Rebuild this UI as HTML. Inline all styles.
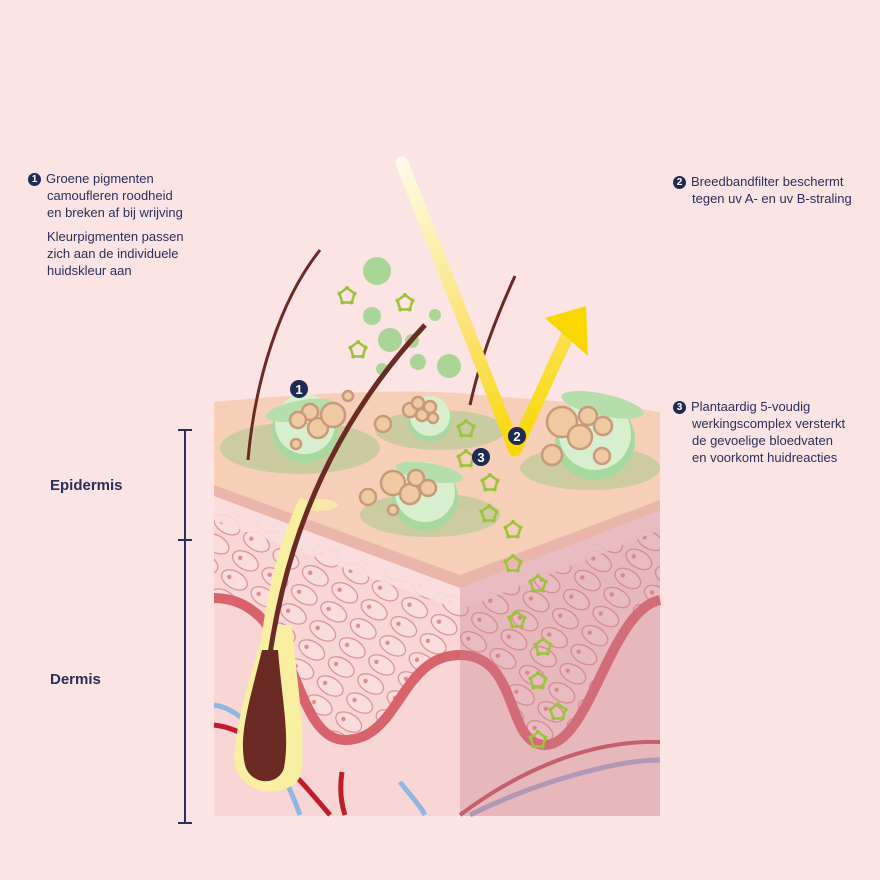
<!DOCTYPE html>
<html><head><meta charset="utf-8"><style>
body{margin:0;background:#fbe4e3;}
.t{position:absolute;font-family:"Liberation Sans",sans-serif;font-size:13px;line-height:17px;color:#2b2f5c;}
.n{display:inline-block;width:13px;height:13px;border-radius:50%;background:#1f2a55;color:#fff;font-size:10px;line-height:13px;text-align:center;font-weight:bold;vertical-align:1px;margin-right:5px}
</style></head><body>
<div style="position:relative;width:880px;height:880px;overflow:hidden;background:#fbe4e3">
<svg width="880" height="880" style="position:absolute;left:0;top:0">
<defs>
<linearGradient id="ray" x1="400" y1="160" x2="515" y2="450" gradientUnits="userSpaceOnUse"><stop offset="0" stop-color="#fffbe8"/><stop offset="0.6" stop-color="#fbe270"/><stop offset="1" stop-color="#f8d800"/></linearGradient>
<clipPath id="band"><path d="M214 505 L460 598 L660 520 L660 600 C610 610 590 745 545 745 C505 745 520 655 460 655 C400 655 400 740 345 740 C290 740 300 598 214 598Z"/></clipPath>
<pattern id="cells" width="34" height="22" patternUnits="userSpaceOnUse" patternTransform="rotate(30)">
<ellipse cx="17" cy="11" rx="14" ry="8.5" fill="#f9dcdc" stroke="#dd8d90" stroke-width="1.2"/><circle cx="11" cy="11" r="2.2" fill="#e08a90"/></pattern>
<g id="pent"><polygon points="0,-8 7.6,-2.5 4.7,6.5 -4.7,6.5 -7.6,-2.5" fill="none" stroke="#9cc43a" stroke-width="2.5"/><circle cx="0" cy="-8" r="2" fill="#9cc43a"/><circle cx="7.6" cy="-2.5" r="2" fill="#9cc43a"/><circle cx="4.7" cy="6.5" r="2" fill="#9cc43a"/><circle cx="-4.7" cy="6.5" r="2" fill="#9cc43a"/><circle cx="-7.6" cy="-2.5" r="2" fill="#9cc43a"/></g>
</defs>
<g stroke="#2b2f5c" stroke-width="2"><line x1="185" y1="430" x2="185" y2="823"/><line x1="178" y1="430" x2="192" y2="430"/><line x1="178" y1="540" x2="192" y2="540"/><line x1="178" y1="823" x2="192" y2="823"/></g>
<rect x="214" y="480" width="446" height="336" fill="#f8d6d6"/>
<rect x="214" y="490" width="446" height="326" fill="url(#cells)" clip-path="url(#band)"/>
<path d="M214 492 L460 582 L660 505 L660 530 L460 610 L214 520Z" fill="#f9dede" opacity="0.9"/>
<path d="M214 598 C300 598 290 740 345 740 C400 740 400 655 460 655 C520 655 505 745 545 745 C590 745 610 610 660 600" fill="none" stroke="#d9636c" stroke-width="10"/>
<path d="M214 705 C250 710 280 760 300 815 M400 782 C410 795 420 805 425 815" stroke="#8fb8e0" stroke-width="5" fill="none"/>
<path d="M214 725 C260 730 300 780 330 815 M345 815 C340 800 340 785 342 772" stroke="#c01c2b" stroke-width="5" fill="none"/>
<path d="M460 815 C520 770 590 740 660 742" stroke="#c4505d" stroke-width="4" fill="none"/>
<path d="M470 815 C540 780 620 760 660 760" stroke="#a7a8cc" stroke-width="5" fill="none"/>
<polygon points="460,575 660,500 660,816 460,816" fill="#c67f8a" opacity="0.35"/>
<path d="M214 402 C320 392 420 388 480 395 C560 402 620 405 660 412 L660 500 L460 575 L214 485Z" fill="#f6cfb8"/>
<path d="M214 485 L460 575 L660 500 L660 510 L460 588 L214 496Z" fill="#eab5aa"/>
<g fill="#a9c98f" opacity="0.55">
<ellipse cx="300" cy="448" rx="80" ry="26"/><ellipse cx="440" cy="430" rx="65" ry="20"/><ellipse cx="430" cy="515" rx="70" ry="22"/><ellipse cx="590" cy="468" rx="70" ry="22"/></g>
<g>
<g transform="translate(305,430)"><circle r="33" fill="#a7d8a0"/><circle r="30" fill="#d8efcf" cy="-6"/><ellipse cy="-20" rx="36" ry="10" fill="#b5deac" transform="rotate(-10)"/></g>
<g transform="translate(430,420)"><circle r="22" fill="#a7d8a0"/><circle r="20" cy="-4" fill="#d8efcf"/></g>
<g transform="translate(425,498)"><circle r="33" fill="#a7d8a0"/><circle r="30" cy="-6" fill="#d8efcf"/><ellipse cy="-26" rx="34" ry="9" fill="#b5deac" transform="rotate(10)"/></g>
<g transform="translate(595,440)"><circle r="40" fill="#a7d8a0"/><circle r="36" cy="-6" fill="#d8efcf"/><ellipse cy="-36" rx="42" ry="11" fill="#b5deac" transform="rotate(12)"/></g>
</g>
<g fill="#efc9a1" stroke="#c8997a" stroke-width="2.5">
<circle cx="318" cy="428" r="10"/><circle cx="333" cy="415" r="12"/><circle cx="310" cy="412" r="8"/><circle cx="298" cy="420" r="8"/><circle cx="348" cy="396" r="5"/><circle cx="296" cy="444" r="5"/>
<circle cx="383" cy="424" r="8"/><circle cx="410" cy="410" r="7"/><circle cx="422" cy="415" r="6"/><circle cx="430" cy="407" r="6"/><circle cx="418" cy="403" r="6"/><circle cx="433" cy="418" r="5"/>
<circle cx="393" cy="483" r="12"/><circle cx="410" cy="494" r="10"/><circle cx="416" cy="478" r="8"/><circle cx="428" cy="488" r="8"/><circle cx="368" cy="497" r="8"/><circle cx="393" cy="510" r="5"/>
<circle cx="562" cy="422" r="15"/><circle cx="580" cy="437" r="12"/><circle cx="588" cy="416" r="9"/><circle cx="603" cy="426" r="9"/><circle cx="552" cy="455" r="10"/><circle cx="602" cy="456" r="8"/>
</g>
<g fill="#a9d596"><circle cx="377" cy="271" r="14"/><circle cx="372" cy="316" r="9"/><circle cx="390" cy="340" r="12"/><circle cx="412" cy="341" r="7"/><circle cx="435" cy="315" r="6"/><circle cx="449" cy="366" r="12"/><circle cx="418" cy="362" r="8"/><circle cx="382" cy="369" r="6"/></g>
<use href="#pent" x="347" y="296"/><use href="#pent" x="405" y="303"/><use href="#pent" x="358" y="350"/>
<path d="M248 460 C255 380 280 300 320 250" stroke="#6b2a24" stroke-width="3" fill="none"/>
<path d="M470 405 C480 360 495 320 515 276" stroke="#6b2a24" stroke-width="3" fill="none"/>
<ellipse cx="318" cy="505" rx="20" ry="6" fill="#fbf2a0" opacity="0.7"/>
<path d="M256 770 C262 640 275 560 305 500" stroke="#f8f0a0" stroke-width="11" fill="none"/>
<path d="M234 760 C238 705 255 665 265 625 L292 625 C295 670 305 720 302 770 C298 800 238 800 234 760Z" fill="#f8f0a0"/>
<path d="M260 770 C265 630 290 470 425 325" stroke="#6b2a24" stroke-width="5" fill="none"/>
<path d="M262 650 C250 700 238 735 245 765 C250 785 278 787 284 768 C290 735 282 700 278 650Z" fill="#6b2a24"/>
<path d="M402 163 L515 450 L570 330" stroke="url(#ray)" stroke-width="13" fill="none" stroke-linecap="round" stroke-linejoin="round"/>
<path d="M545 318 L586 306 L588 356 Z" fill="#f8d800"/>
<g><use href="#pent" x="466" y="429"/><use href="#pent" x="466" y="459"/><use href="#pent" x="490" y="483"/><use href="#pent" x="489" y="514"/><use href="#pent" x="513" y="530"/><use href="#pent" x="513" y="564"/><use href="#pent" x="538" y="584"/><use href="#pent" x="517" y="620"/><use href="#pent" x="543" y="647"/><use href="#pent" x="538" y="681"/><use href="#pent" x="558" y="712"/><use href="#pent" x="538" y="740"/></g>
<g font-family="Liberation Sans" font-weight="bold" font-size="13" fill="#fff" text-anchor="middle">
<circle cx="299" cy="389" r="9" fill="#1f2a55"/><text x="299" y="394">1</text>
<circle cx="517" cy="436" r="9" fill="#1f2a55"/><text x="517" y="441">2</text>
<circle cx="481" cy="457" r="9" fill="#1f2a55"/><text x="481" y="462">3</text>
</g>
</svg>
<div class="t" style="left:28px;top:170px"><span class="n">1</span>Groene pigmenten<br><span style="margin-left:19px">camoufleren roodheid</span><br><span style="margin-left:19px">en breken af bij wrijving</span></div>
<div class="t" style="left:47px;top:228px">Kleurpigmenten passen<br>zich aan de individuele<br>huidskleur aan</div>
<div class="t" style="left:673px;top:173px"><span class="n">2</span>Breedbandfilter beschermt<br><span style="margin-left:19px">tegen uv A- en uv B-straling</span></div>
<div class="t" style="left:673px;top:398px"><span class="n">3</span>Plantaardig 5-voudig<br><span style="margin-left:19px">werkingscomplex versterkt</span><br><span style="margin-left:19px">de gevoelige bloedvaten</span><br><span style="margin-left:19px">en voorkomt huidreacties</span></div>
<div class="t" style="left:50px;top:477px;font-weight:bold;font-size:15px">Epidermis</div>
<div class="t" style="left:50px;top:671px;font-weight:bold;font-size:15px">Dermis</div>
</div>
</body></html>
